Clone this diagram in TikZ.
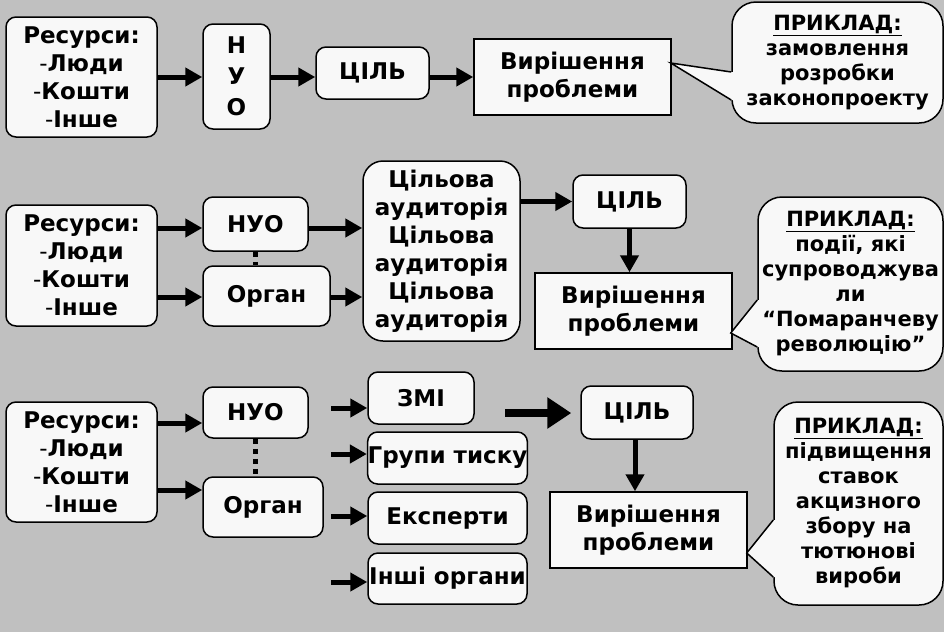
\documentclass[tikz,border=0pt]{standalone}
\usepackage{fontspec}
\setmainfont{DejaVu Sans}
\usetikzlibrary{arrows.meta,positioning,calc}
\definecolor{slidegray}{RGB}{192,192,192}
\definecolor{boxwhite}{RGB}{248,248,248}
\tikzset{
    box/.style={draw, line width=1.5pt, fill=boxwhite, rounded corners=10pt, align=center, inner sep=0pt, font=\bfseries\fontsize{23}{28}\selectfont},
    plainbox/.style={box, sharp corners},
    note/.style={draw, line width=1.5pt, fill=boxwhite, rounded corners=24pt, align=center, inner sep=0pt, font=\bfseries\fontsize{21}{25}\selectfont},
    flow/.style={-{Triangle[length=17pt, width=18pt]}, line width=5pt},
    bigflow/.style={-{Triangle[length=24pt, width=30pt]}, line width=8pt},
    orglink/.style={line width=5pt, dash pattern=on 5pt off 5pt}
}
\newcommand{\dsh}{{\mdseries -}}

\begin{document}
\begin{tikzpicture}[x=1pt, y=-1pt]
\fill[slidegray] (0,0) rectangle (944,632);
\useasboundingbox (0,0) rectangle (944,632);

% first scheme
\node[box, minimum width=151pt, minimum height=120pt] (res1) at (81.5,77) {Ресурси:\\\dsh Люди\\\dsh Кошти\\\dsh Інше};
\node[box, minimum width=67pt, minimum height=105pt, font=\bfseries\fontsize{23}{31}\selectfont] (nuo1) at (236.5,76.5) {Н\\У\\О};
\node[box, minimum width=113pt, minimum height=52pt] (goal1) at (372.5,73) {ЦІЛЬ};
\node[plainbox, minimum width=197pt, minimum height=76pt] (solve1) at (572.5,77) {Вирішення\\проблеми};
\node[note, minimum width=211pt, minimum height=121pt] (ex1) at (837.5,62.5) {\underline{ПРИКЛАД:}\\замовлення\\розробки\\законопроекту};
\draw[flow] (res1.east) -- (nuo1.west |- res1.east);
\draw[flow] (nuo1.east |- res1.east) -- (goal1.west |- res1.east);
\draw[flow] (goal1.east |- res1.east) -- (solve1.west);
\fill[boxwhite] ($(solve1.east)+(-1,-14)$) -- ($(ex1.west)+(0,9.5)$) -- ($(ex1.west)+(3,9.5)$) -- ($(ex1.west)+(3,37.5)$) -- ($(ex1.west)+(0,37.5)$) -- cycle;
\draw[line width=1.5pt] ($(ex1.west)+(0,9.5)$) -- ($(solve1.east)+(-1,-14)$) -- ($(ex1.west)+(0,37.5)$);

% second scheme
\node[box, minimum width=151pt, minimum height=121pt] (res2) at (81.5,265.5) {Ресурси:\\\dsh Люди\\\dsh Кошти\\\dsh Інше};
\node[box, minimum width=105pt, minimum height=54pt] (nuo2) at (255.5,224) {НУО};
\node[box, minimum width=127pt, minimum height=60pt] (organ2) at (266.5,296) {Орган};
\node[box, minimum width=157pt, minimum height=180pt, rounded corners=20pt] (aud2) at (441.5,251) {Цільова\\аудиторія\\Цільова\\аудиторія\\Цільова\\аудиторія};
\node[box, minimum width=113pt, minimum height=53pt] (goal2) at (629.5,201.5) {ЦІЛЬ};
\node[plainbox, minimum width=197pt, minimum height=76pt] (solve2) at (633.5,311) {Вирішення\\проблеми};
\node[note, minimum width=185pt, minimum height=174pt] (ex2) at (850.5,284) {\underline{ПРИКЛАД:}\\події, які\\супроводжува\\ли\\“Помаранчеву\\революцію”};
\draw[flow] ($(res2.east)+(0,-37.5)$) -- ($(nuo2.west)+(0,4)$);
\draw[flow] ($(res2.east)+(0,31.5)$) -- ($(organ2.west)+(0,1)$);
\draw[flow] ($(nuo2.east)+(0,4)$) -- ($(nuo2.east -| aud2.west)+(0,4)$);
\draw[flow] ($(organ2.east)+(0,1)$) -- ($(organ2.east -| aud2.west)+(0,1)$);
\draw[orglink] (nuo2.south) -- (nuo2.south |- organ2.north);
\draw[flow] (goal2.west -| aud2.east) -- (goal2.west);
\draw[flow] (goal2.south) -- (goal2.south |- solve2.north);
\fill[boxwhite] ($(solve2.east)+(-2,22)$) -- ($(ex2.west)+(0,16)$) -- ($(ex2.west)+(3,16)$) -- ($(ex2.west)+(3,63)$) -- ($(ex2.west)+(0,63)$) -- cycle;
\draw[line width=1.5pt] ($(ex2.west)+(0,16)$) -- ($(solve2.east)+(-2,22)$) -- ($(ex2.west)+(0,63)$);

% third scheme
\node[box, minimum width=151pt, minimum height=120pt] (res3) at (81.5,462) {Ресурси:\\\dsh Люди\\\dsh Кошти\\\dsh Інше};
\node[box, minimum width=105pt, minimum height=51pt] (nuo3) at (255.5,412.5) {НУО};
\node[box, minimum width=120pt, minimum height=60pt] (organ3) at (263,507) {Орган};
\node[box, minimum width=106pt, minimum height=52pt] (media) at (421,398) {ЗМІ};
\node[box, minimum width=159pt, minimum height=52pt] (lobby) at (447.5,458) {Групи тиску};
\node[box, minimum width=159pt, minimum height=52pt] (experts) at (447.5,518) {Експерти};
\node[box, minimum width=159pt, minimum height=51pt] (others) at (447.5,578.5) {Інші органи};
\node[box, minimum width=112pt, minimum height=53pt] (goal3) at (637,412.5) {ЦІЛЬ};
\node[plainbox, minimum width=197pt, minimum height=76pt] (solve3) at (648.5,530) {Вирішення\\проблеми};
\node[note, minimum width=169pt, minimum height=203pt] (ex3) at (858.5,503.5) {\underline{ПРИКЛАД:}\\підвищення\\ставок\\акцизного\\збору на\\тютюнові\\вироби};
\draw[flow] ($(res3.east)+(0,-39)$) -- ($(nuo3.west)+(0,10.5)$);
\draw[flow] ($(res3.east)+(0,28)$) -- ($(organ3.west)+(0,-17)$);
\draw[orglink] (nuo3.south) -- (nuo3.south |- organ3.north);
\coordinate (m1) at (331,408);
\coordinate (m2) at (331,454);
\coordinate (m3) at (331,516);
\coordinate (m4) at (331,582);
\coordinate (g3) at (505,413);
\draw[flow] (m1) -- (m1 -| media.west);
\draw[flow] (m2) -- (m2 -| lobby.west);
\draw[flow] (m3) -- (m3 -| experts.west);
\draw[flow] (m4) -- (m4 -| others.west);
\draw[bigflow, shorten >=9pt] (g3) -- (g3 -| goal3.west);
\draw[flow] ($(goal3.south)+(-2,0)$) -- ($(goal3.south |- solve3.north)+(-2,0)$);
\fill[boxwhite] ($(solve3.east)+(-1,23)$) -- ($(ex3.west)+(0,16.5)$) -- ($(ex3.west)+(3,16.5)$) -- ($(ex3.west)+(3,73.5)$) -- ($(ex3.west)+(0,73.5)$) -- cycle;
\draw[line width=1.5pt] ($(ex3.west)+(0,16.5)$) -- ($(solve3.east)+(-1,23)$) -- ($(ex3.west)+(0,73.5)$);
\end{tikzpicture}
\end{document}
